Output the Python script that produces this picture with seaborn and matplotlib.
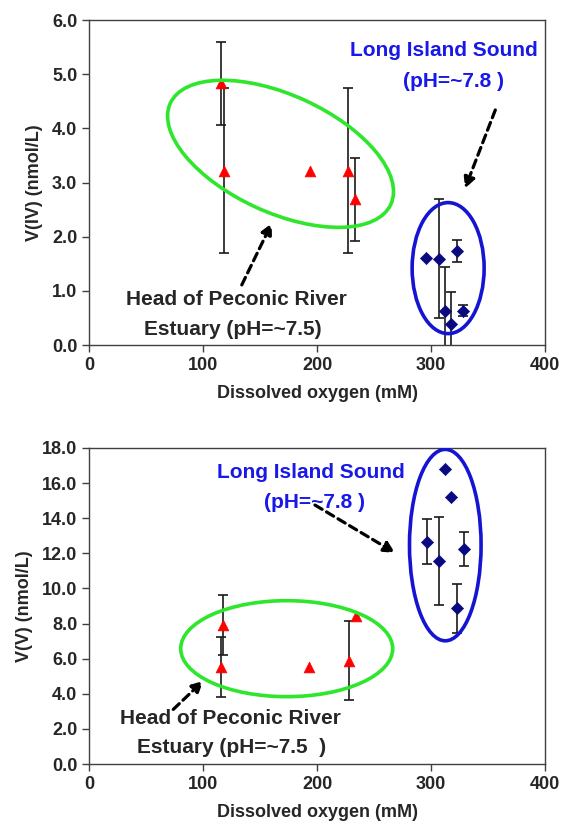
import numpy as np
import pandas as pd
import matplotlib
matplotlib.use("Agg")
import matplotlib.pyplot as plt
import seaborn as sns
from matplotlib.patches import Ellipse
from matplotlib.transforms import ScaledTranslation
from matplotlib.ticker import FormatStrFormatter

# --- data ---
# top panel: V(IV)
pec_do_iv = [115.8, 118.7, 193.9, 227.5, 233.6]
pec_v_iv = [4.83, 3.22, 3.22, 3.22, 2.69]
pec_err_iv = [0.76, 1.53, 0.0, 1.53, 0.77]
lis_do_iv = [295.3, 307.0, 322.5, 312.3, 317.3, 328.4]
lis_v_iv = [1.61, 1.59, 1.74, 0.63, 0.38, 0.63]
lis_err_iv = [0.0, 1.10, 0.20, 0.81, 0.59, 0.10]

# bottom panel: V(V)
pec_do_v = [115.8, 117.8, 192.7, 227.8, 234.2]
pec_v_v = [5.54, 7.92, 5.51, 5.88, 8.43]
pec_err_v = [1.70, 1.70, 0.0, 2.26, 0.0]
lis_do_v = [296.2, 307.3, 312.6, 317.5, 328.9, 323.1]
lis_v_v = [12.66, 11.58, 16.80, 15.22, 12.24, 8.86]
lis_err_v = [1.28, 2.50, 0.0, 0.0, 0.98, 1.39]

RED = "#ff0000"
NAVY = "#0a0a80"
GREEN = "#2ee62b"
BLUE = "#1414d2"
TXT_BLUE = "#1818e8"

sns.set_style("ticks")
plt.rcParams["font.family"] = ["Liberation Sans", "DejaVu Sans"]
plt.rcParams["font.weight"] = "bold"

fig = plt.figure(figsize=(5.63, 8.31), dpi=100)
ax1 = fig.add_axes([0.1581, 0.5848, 0.810, 0.3911])
ax2 = fig.add_axes([0.1581, 0.0806, 0.810, 0.3803])


def draw_group(ax, x, y, err, marker, color, size):
    df = pd.DataFrame({"x": x, "y": y, "err": err})
    bars = df[df["err"] > 0]
    ax.errorbar(bars["x"], bars["y"], yerr=bars["err"], fmt="none",
                ecolor="#1a1a1a", elinewidth=1.2, capsize=3.5, capthick=1.2, zorder=2)
    sns.scatterplot(data=df, x="x", y="y", ax=ax, marker=marker, color=color,
                    s=size, edgecolor=color, linewidth=0.5, zorder=3, legend=False)


def ring(ax, cx, cy, w_px, h_px, angle, color):
    # ellipse sized in pixels, centred on a data point
    tr = fig.dpi_scale_trans + ScaledTranslation(cx, cy, ax.transData)
    e = Ellipse((0, 0), w_px / 100, h_px / 100, angle=angle, transform=tr,
                fill=False, edgecolor=color, lw=2.6, zorder=4)
    ax.add_patch(e)


def dashed_arrow(ax, start, end):
    ax.annotate("", xy=end, xytext=start,
                arrowprops=dict(arrowstyle="-|>", color="black", lw=2.3,
                                linestyle=(0, (2.6, 1.6)), mutation_scale=16,
                                shrinkA=0, shrinkB=0), zorder=5)


def style_axes(ax, ymax, ystep, ylabel):
    ax.set_xlim(0, 400)
    ax.set_ylim(0, ymax)
    ax.set_xticks(np.arange(0, 401, 100))
    ax.set_yticks(np.arange(0, ymax + 0.01, ystep))
    ax.yaxis.set_major_formatter(FormatStrFormatter("%.1f"))
    ax.set_xlabel("Dissolved oxygen (mM)", fontsize=13, fontweight="bold", labelpad=8)
    ax.set_ylabel(ylabel, fontsize=13, fontweight="bold", labelpad=6)
    ax.tick_params(labelsize=13, direction="out", length=5, width=1, color="#404040")
    for lab in ax.get_xticklabels() + ax.get_yticklabels():
        lab.set_fontweight("bold")
    for sp in ax.spines.values():
        sp.set_visible(True)
        sp.set_color("#404040")
        sp.set_linewidth(1.0)


# ---- top panel ----
draw_group(ax1, pec_do_iv, pec_v_iv, pec_err_iv, "^", RED, 60)
draw_group(ax1, lis_do_iv, lis_v_iv, lis_err_iv, "D", NAVY, 38)
ring(ax1, 168, 3.53, 242.6, 117.6, -24.6, GREEN)
ring(ax1, 315, 1.42, 72, 131, 0, BLUE)
ax1.text(311.4, 5.43, "Long Island Sound", color=TXT_BLUE, fontsize=15,
         fontweight="bold", ha="center", va="center")
ax1.text(319.3, 4.86, "(pH=~7.8 )", color=TXT_BLUE, fontsize=15,
         fontweight="bold", ha="center", va="center")
ax1.text(129.5, 0.84, "Head of Peconic River", fontsize=15, fontweight="bold",
         ha="center", va="center")
ax1.text(125.9, 0.28, "Estuary (pH=~7.5)", fontsize=15, fontweight="bold",
         ha="center", va="center")
dashed_arrow(ax1, (134, 1.11), (160.3, 2.25))
dashed_arrow(ax1, (356.4, 4.34), (329.8, 2.89))
style_axes(ax1, 6, 1, "V(IV) (nmol/L)")

# ---- bottom panel ----
draw_group(ax2, pec_do_v, pec_v_v, pec_err_v, "^", RED, 60)
draw_group(ax2, lis_do_v, lis_v_v, lis_err_v, "D", NAVY, 38)
ring(ax2, 173.4, 6.57, 212, 96, 0, GREEN)
ring(ax2, 312.5, 12.47, 71.6, 191.4, 0, BLUE)
ax2.text(194.3, 16.61, "Long Island Sound", color=TXT_BLUE, fontsize=15,
         fontweight="bold", ha="center", va="center")
ax2.text(197.4, 14.92, "(pH=~7.8 )", color=TXT_BLUE, fontsize=15,
         fontweight="bold", ha="center", va="center")
ax2.text(123.7, 2.60, "Head of Peconic River", fontsize=15, fontweight="bold",
         ha="center", va="center")
ax2.text(124.8, 0.93, "Estuary (pH=~7.5  )", fontsize=15, fontweight="bold",
         ha="center", va="center")
dashed_arrow(ax2, (73.9, 3.11), (100.2, 4.74))
dashed_arrow(ax2, (198.2, 14.75), (268.4, 12.03))
style_axes(ax2, 18, 2, "V(V) (nmol/L)")

fig.savefig("out.png", dpi=100)
